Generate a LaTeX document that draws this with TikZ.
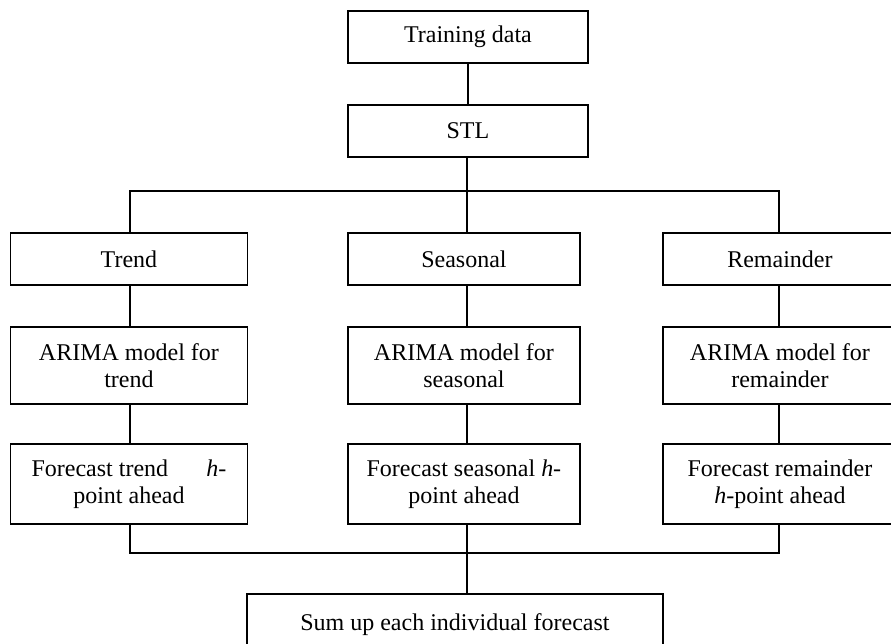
\documentclass[tikz,border=0pt]{standalone}
\usepackage{fontspec}
\setmainfont{Liberation Serif}
\begin{document}
\begin{tikzpicture}[x=0.75pt,y=-0.75pt,
  box/.style={draw=black, line width=1.4pt, rectangle, inner sep=0pt, anchor=north west,
    align=center, font=\fontsize{18pt}{20.25pt}\selectfont},
  conn/.style={draw=black, line width=1.4pt}]
\useasboundingbox (0,0) rectangle (891,643);
\clip (0,0) rectangle (891,643);
\fill[white] (0,0) rectangle (891,643);
% top
\node[box, minimum width=240*0.75pt, minimum height=52*0.75pt] (train) at (347,10) {Training data};
\node[box, minimum width=240*0.75pt, minimum height=52*0.75pt] (stl) at (347,104) {STL};
% components
\node[box, minimum width=237*0.75pt, minimum height=52*0.75pt] (trend) at (9.5,232) {Trend};
\node[box, minimum width=232*0.75pt, minimum height=52*0.75pt] (seas) at (347,232) {Seasonal};
\node[box, minimum width=234*0.75pt, minimum height=52*0.75pt] (rem) at (662,232) {Remainder};
% ARIMA
\node[box, minimum width=237*0.75pt, minimum height=77*0.75pt] (at) at (9.5,326) {ARIMA model for\\trend};
\node[box, minimum width=232*0.75pt, minimum height=77*0.75pt] (as) at (347,326) {ARIMA model for\\seasonal};
\node[box, minimum width=234*0.75pt, minimum height=77*0.75pt] (ar) at (662,326) {ARIMA model for\\remainder};
% forecasts
\node[box, minimum width=237*0.75pt, minimum height=80*0.75pt] (ft) at (9.5,443) {\makebox[146pt]{Forecast trend\hfill\textit{h}-}\\point ahead};
\node[box, minimum width=232*0.75pt, minimum height=80*0.75pt] (fs) at (347,443) {Forecast seasonal \textit{h}-\\point ahead};
\node[box, minimum width=234*0.75pt, minimum height=80*0.75pt] (fr) at (662,443) {Forecast remainder\\\textit{h}-point ahead};
% sum
\node[box, minimum width=416*0.75pt, minimum height=84*0.75pt] (sum) at (246,593) {Sum up each individual forecast\\\mbox{}};
% helper coordinates
\coordinate (split) at (0,191);
\coordinate (merge) at (0,553);
\coordinate (xl) at (130,0);
\coordinate (xm) at (467,0);
\coordinate (xr) at (779,0);
% connectors
\draw[conn] (train.south) -- (stl.north);
\draw[conn] (xm |- stl.south) -- (xm |- split);
\draw[conn] (xl |- trend.north) -- (xl |- split) -- (xr |- split) -- (xr |- rem.north);
\draw[conn] (xm |- split) -- (xm |- seas.north);
\draw[conn] (xl |- trend.south) -- (xl |- at.north);
\draw[conn] (xm |- seas.south) -- (xm |- as.north);
\draw[conn] (xr |- rem.south) -- (xr |- ar.north);
\draw[conn] (xl |- at.south) -- (xl |- ft.north);
\draw[conn] (xm |- as.south) -- (xm |- fs.north);
\draw[conn] (xr |- ar.south) -- (xr |- fr.north);
\draw[conn] (xl |- ft.south) -- (xl |- merge) -- (xr |- merge) -- (xr |- fr.south);
\draw[conn] (xm |- fs.south) -- (xm |- sum.north);
\end{tikzpicture}
\end{document}
